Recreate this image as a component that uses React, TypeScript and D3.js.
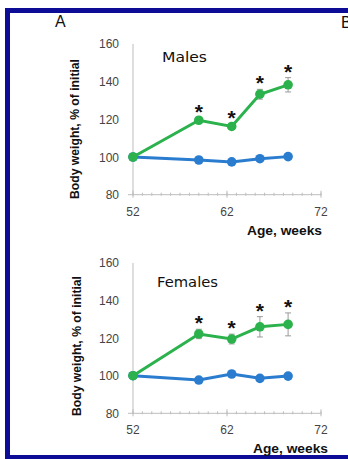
import React from 'react';
import * as d3 from 'd3';

// weeks of age at each weighing
const weeks = [52, 59, 62.5, 65.5, 68.5];

const malesHfd = [100, 119.5, 116.2, 133.3, 138.3];
const malesHfdErr = [0, 1, 1.2, 2.6, 3.8];
const malesCtrl = [100, 98.4, 97.4, 99.1, 100.2];

const femalesHfd = [100, 122.2, 119.5, 126.0, 127.3];
const femalesHfdErr = [0, 2.5, 2.6, 5.4, 6.1];
const femalesCtrl = [100, 97.7, 100.9, 98.6, 99.8];

const significant = [false, true, true, true, true];

const xTicks = [52, 62, 72];
const xMinorTicks = d3.range(52, 73, 1);
const yTicks = [80, 100, 120, 140, 160];

const GREEN = '#2bb24c';
const BLUE = '#2a7ccf';
const AXIS = '#bdbdbd';

const panels = [
  { title: 'Males', top: 43.9, bottom: 194.7, hfd: malesHfd, err: malesHfdErr, ctrl: malesCtrl, titleLen: 45, titleX: 162, titleY: 62, ageX: 247, ageY: 235, ylabX: 79, ylabY: 129 },
  { title: 'Females', top: 262.9, bottom: 413.3, hfd: femalesHfd, err: femalesHfdErr, ctrl: femalesCtrl, titleLen: 61, titleX: 157, titleY: 287, ageX: 253, ageY: 453, ylabX: 81, ylabY: 346 },
];

const x = d3.scaleLinear().domain([52, 72]).range([133, 321]);

function Panel({ p }) {
  const y = d3.scaleLinear().domain([80, 160]).range([p.bottom, p.top]);
  const line = d3.line<number>().x((_, i) => x(weeks[i])).y(d => y(d));
  const axisY = y(80);
  return (
    <g>
      {/* axes */}
      <line x1={x(52)} x2={x(52)} y1={y(160)} y2={axisY} stroke={AXIS} strokeWidth={1} />
      <line x1={x(52) - 5} x2={x(72)} y1={axisY} y2={axisY} stroke={AXIS} strokeWidth={1} />
      {xMinorTicks.map(t => (
        <line key={'m' + t} x1={x(t)} x2={x(t)} y1={axisY - 2} y2={axisY + 1} stroke={AXIS} strokeWidth={1} />
      ))}
      {xTicks.map(t => (
        <g key={'x' + t}>
          <line x1={x(t)} x2={x(t)} y1={axisY - 4} y2={axisY + 3} stroke={AXIS} strokeWidth={1} />
          <text x={x(t)} y={axisY + 21} textAnchor="middle" fontSize={12} fill="#444"
            fontFamily="Liberation Sans, Arial, sans-serif">{t}</text>
        </g>
      ))}
      {yTicks.map(t => (
        <text key={'y' + t} x={119} y={y(t) + 4.5} textAnchor="end" fontSize={12} fill="#444"
          fontFamily="Liberation Sans, Arial, sans-serif">{t}</text>
      ))}
      <text transform={`translate(${p.ylabX},${p.ylabY}) rotate(-90)`} textAnchor="middle" fontSize={12}
        fontWeight="bold" fill="#111" fontFamily="Liberation Sans, Arial, sans-serif"
        textLength={140} lengthAdjust="spacingAndGlyphs">Body weight, % of initial</text>
      <text x={p.ageX} y={p.ageY} fontSize={12} fontWeight="bold" fill="#111"
        fontFamily="Liberation Sans, Arial, sans-serif" textLength={75} lengthAdjust="spacingAndGlyphs">Age, weeks</text>
      <text x={p.titleX} y={p.titleY} fontSize={14} fill="#111" fontFamily="DejaVu Sans, sans-serif"
        textLength={p.titleLen} lengthAdjust="spacingAndGlyphs">{p.title}</text>

      {/* control series */}
      <path d={line(p.ctrl) || ''} fill="none" stroke={BLUE} strokeWidth={3} />
      {p.ctrl.map((v, i) => (
        <circle key={'c' + i} cx={x(weeks[i])} cy={y(v)} r={4.8} fill={BLUE} />
      ))}

      {/* error bars */}
      {p.hfd.map((v, i) => p.err[i] > 0 && (
        <g key={'e' + i} stroke="#9a9a9a" strokeWidth={1}>
          <line x1={x(weeks[i])} x2={x(weeks[i])} y1={y(v + p.err[i])} y2={y(v - p.err[i])} />
          <line x1={x(weeks[i]) - 3} x2={x(weeks[i]) + 3} y1={y(v + p.err[i])} y2={y(v + p.err[i])} />
          <line x1={x(weeks[i]) - 3} x2={x(weeks[i]) + 3} y1={y(v - p.err[i])} y2={y(v - p.err[i])} />
        </g>
      ))}

      {/* high-fat series */}
      <path d={line(p.hfd) || ''} fill="none" stroke={GREEN} strokeWidth={3} />
      {p.hfd.map((v, i) => (
        <circle key={'h' + i} cx={x(weeks[i])} cy={y(v)} r={4.8} fill={GREEN} />
      ))}

      {/* significance marks */}
      {p.hfd.map((v, i) => significant[i] && (
        <text key={'s' + i} x={x(weeks[i])} y={y(v + p.err[i]) + 1} textAnchor="middle" fontSize={21}
          fontWeight="bold" fill="#111" fontFamily="Liberation Sans, Arial, sans-serif">*</text>
      ))}
    </g>
  );
}

export default function App() {
  return (
    <svg width={348} height={459} style={{ position: 'absolute', left: 0, top: 0, background: '#fff' }}>
      <rect x={0} y={0} width={348} height={459} fill="#fff" />
      <rect x={7.5} y={10.5} width={360} height={447} fill="none" stroke="#0c0c96" strokeWidth={5} />
      <text x={55} y={27} fontSize={16} fill="#111" fontFamily="Liberation Sans, Arial, sans-serif">A</text>
      <text x={341} y={28} fontSize={16} fill="#111" fontFamily="Liberation Sans, Arial, sans-serif">B</text>
      {panels.map(p => <Panel key={p.title} p={p} />)}
    </svg>
  );
}
